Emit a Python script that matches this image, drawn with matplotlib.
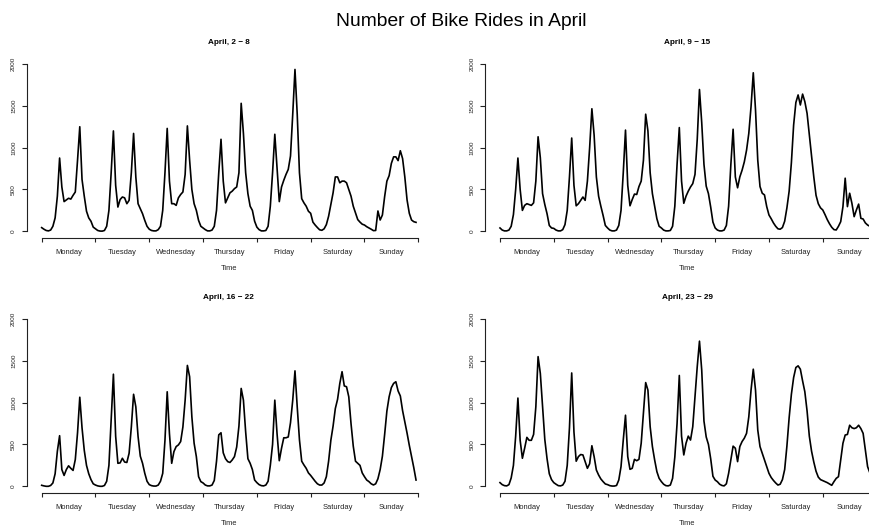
import matplotlib
matplotlib.use("Agg")
import matplotlib.pyplot as plt
import matplotlib.transforms as mtransforms
import numpy as np

plt.rcParams["font.family"] = ["Liberation Sans", "DejaVu Sans"]

# Hourly ride counts, one list of 24 values per day (Monday .. Sunday)
rides_apr_02_08 = [
    [44, 25, 10, 5, 15, 60, 160, 420, 876, 530, 355, 375, 395, 385, 430, 470, 850, 1250, 620, 420, 240, 160, 120, 50],
    [30, 10, 3, 2, 10, 60, 250, 700, 1200, 550, 290, 380, 410, 400, 330, 370, 700, 1170, 650, 330, 270, 210, 130, 60],
    [25, 10, 5, 5, 20, 60, 250, 700, 1230, 600, 330, 330, 310, 400, 440, 470, 680, 1260, 850, 500, 330, 250, 130, 60],
    [40, 20, 5, 5, 15, 60, 250, 700, 1100, 600, 340, 400, 460, 480, 510, 530, 700, 1530, 1170, 700, 450, 300, 250, 120],
    [50, 20, 5, 5, 10, 60, 300, 700, 1160, 750, 355, 530, 610, 680, 740, 900, 1400, 1935, 1400, 700, 390, 340, 300, 240],
    [215, 110, 75, 45, 18, 12, 30, 80, 180, 320, 460, 650, 650, 580, 600, 600, 580, 500, 420, 300, 220, 140, 110, 85],
    [75, 55, 40, 25, 8, 10, 243, 135, 195, 415, 600, 665, 812, 890, 890, 845, 963, 870, 650, 375, 215, 135, 115, 107],
]
rides_apr_09_15 = [
    [40, 15, 5, 5, 15, 60, 200, 500, 876, 500, 250, 310, 330, 320, 310, 340, 600, 1130, 880, 450, 320, 210, 70, 40],
    [35, 15, 5, 5, 20, 80, 250, 650, 1115, 550, 305, 330, 370, 410, 370, 600, 1000, 1465, 1150, 650, 420, 300, 190, 70],
    [40, 15, 5, 5, 15, 70, 250, 700, 1210, 550, 305, 380, 445, 440, 535, 600, 850, 1400, 1200, 700, 450, 300, 150, 60],
    [40, 15, 5, 5, 10, 60, 300, 800, 1240, 600, 335, 420, 480, 530, 570, 680, 1100, 1695, 1300, 800, 540, 450, 290, 110],
    [40, 15, 5, 5, 15, 70, 300, 800, 1220, 650, 520, 650, 730, 830, 970, 1170, 1490, 1895, 1450, 850, 535, 455, 435, 295],
    [195, 150, 100, 60, 30, 25, 45, 120, 280, 480, 820, 1270, 1540, 1630, 1510, 1640, 1550, 1410, 1150, 900, 650, 430, 330, 280],
    [255, 200, 140, 90, 48, 20, 16, 60, 115, 295, 635, 295, 455, 335, 175, 255, 325, 155, 147, 100, 75, 60, 50, 40],
]
rides_apr_16_22 = [
    [12, 5, 0, 0, 10, 40, 150, 420, 605, 200, 130, 200, 245, 215, 190, 320, 640, 1065, 700, 430, 250, 150, 80, 30],
    [15, 5, 0, 0, 10, 60, 250, 800, 1340, 600, 275, 280, 335, 290, 285, 395, 710, 1100, 950, 595, 360, 275, 155, 60],
    [20, 8, 3, 3, 15, 60, 155, 550, 1130, 630, 275, 415, 475, 495, 535, 710, 1030, 1445, 1310, 830, 515, 355, 115, 56],
    [40, 15, 5, 5, 15, 70, 300, 615, 640, 400, 330, 295, 285, 315, 355, 470, 720, 1170, 1030, 650, 330, 275, 200, 75],
    [44, 20, 8, 5, 15, 60, 250, 500, 1030, 630, 306, 455, 580, 580, 590, 760, 1030, 1380, 950, 555, 300, 255, 215, 160],
    [130, 95, 60, 30, 15, 15, 40, 115, 300, 550, 720, 930, 1040, 1230, 1370, 1200, 1190, 1070, 750, 480, 300, 275, 250, 160],
    [115, 75, 56, 30, 16, 30, 90, 200, 360, 620, 900, 1070, 1180, 1230, 1250, 1140, 1080, 905, 770, 636, 490, 355, 223, 75],
]
rides_apr_23_29 = [
    [44, 20, 8, 5, 20, 100, 250, 600, 1055, 550, 335, 455, 585, 550, 550, 620, 950, 1550, 1350, 950, 560, 330, 150, 80],
    [44, 25, 8, 5, 15, 60, 250, 700, 1355, 650, 300, 355, 380, 375, 295, 215, 270, 485, 355, 195, 135, 88, 56, 28],
    [20, 8, 3, 3, 10, 75, 235, 553, 850, 355, 203, 215, 322, 306, 322, 515, 870, 1240, 1150, 712, 475, 315, 175, 95],
    [56, 25, 8, 5, 15, 95, 350, 750, 1325, 600, 375, 515, 600, 553, 712, 1070, 1430, 1735, 1390, 780, 590, 500, 330, 120],
    [75, 55, 25, 10, 5, 30, 155, 315, 480, 455, 295, 475, 535, 575, 633, 830, 1150, 1400, 1150, 673, 475, 395, 315, 235],
    [155, 105, 70, 40, 15, 25, 80, 200, 480, 820, 1100, 1300, 1420, 1440, 1400, 1260, 1130, 900, 600, 420, 290, 180, 110, 80],
    [68, 56, 44, 28, 12, 56, 95, 115, 315, 515, 613, 620, 730, 700, 690, 700, 730, 690, 633, 435, 235, 160, 110, 80],
]

week_titles = ["April, 2 \u2212 8", "April, 9 \u2212 15", "April, 16 \u2212 22", "April, 23 \u2212 29"]
day_names = ["Monday", "Tuesday", "Wednesday", "Thursday", "Friday", "Saturday", "Sunday"]
y_ticks = [0, 500, 1000, 1500, 2000]
weeks = [rides_apr_02_08, rides_apr_09_15, rides_apr_16_22, rides_apr_23_29]

W, H = 869, 527
fig = plt.figure(figsize=(W / 100, H / 100), dpi=100)
fig.patch.set_facecolor("white")


def fx(px):
    return px / W


def fy(py):
    return 1 - py / H


# panel placement in pixels: (left, top, bottom)
plot_w = 404.3
panels = [(26.7, 57.3, 238.0), (485.0, 57.3, 238.0),
          (26.7, 312.3, 493.0), (485.0, 312.3, 493.0)]

n_hours = 168
hours = np.arange(n_hours)
x_pad = 0.04 * (n_hours - 1)

for week, title, (left, top, bottom) in zip(weeks, week_titles, panels):
    ax = fig.add_axes([fx(left), fy(bottom), fx(plot_w), (bottom - top) / H])
    values = np.concatenate([np.asarray(d, dtype=float) for d in week])
    ax.plot(hours, values, color="black", lw=1.2, solid_joinstyle="round")

    ax.set_xlim(-x_pad, n_hours - 1 + x_pad)
    ax.set_ylim(-80, 2080)
    ax.patch.set_alpha(0)
    for side in ("top", "right"):
        ax.spines[side].set_visible(False)
    ax.spines["left"].set_bounds(0, 2000)
    ax.spines["bottom"].set_bounds(0, 168)
    for side in ("left", "bottom"):
        ax.spines[side].set_linewidth(0.8)
        ax.spines[side].set_color("#222222")

    ax.set_yticks(y_ticks)
    ax.set_yticklabels([str(v) for v in y_ticks], rotation=90, va="center")
    ax.tick_params(axis="y", length=3.6, width=0.8, pad=4.0, labelsize=4.6,
                   colors="#222222")
    ax.set_xticks(np.arange(0, 169, 24))
    ax.set_xticklabels([])
    ax.tick_params(axis="x", length=2.9, width=0.8, colors="#222222")

    trans = mtransforms.blended_transform_factory(ax.transData, fig.transFigure)
    for i, name in enumerate(day_names):
        ax.text(24 * i + 12, fy(bottom + 15.6), name, transform=trans,
                ha="center", va="baseline", fontsize=5.4, color="#222222")

    cx = fx(left + plot_w / 2)
    fig.text(cx, fy(bottom + 32.3), "Time", ha="center", va="baseline",
             fontsize=5.4, color="#222222")
    fig.text(cx, fy(top - 13.0), title, ha="center", va="baseline",
             fontsize=5.9, fontweight="bold", color="black")

fig.text(fx(461), fy(25.7), "Number of Bike Rides in April", ha="center",
         va="baseline", fontsize=13.9, color="black")

fig.savefig("out.png", dpi=100)
